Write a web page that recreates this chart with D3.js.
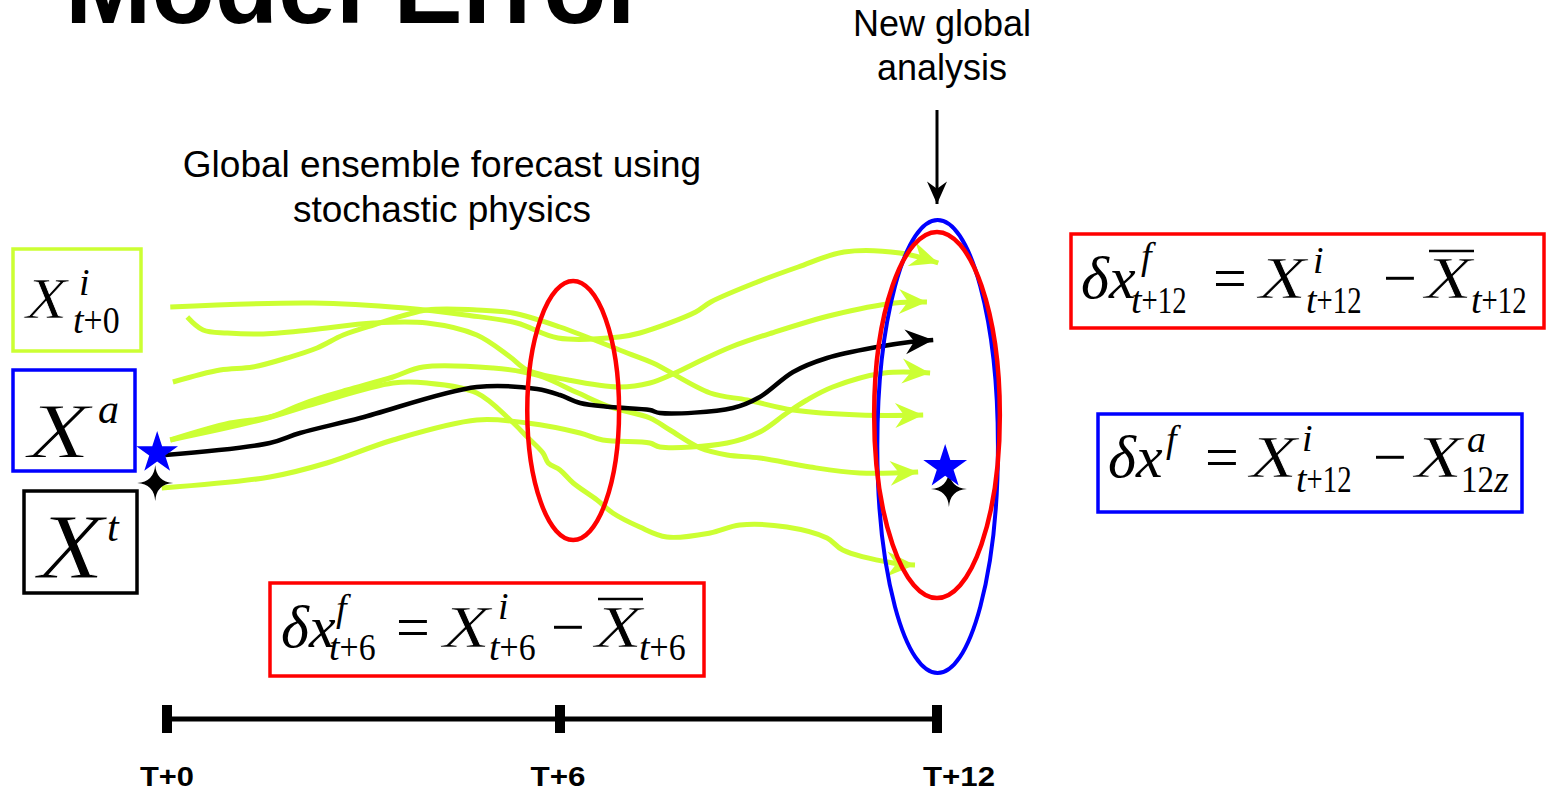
<!DOCTYPE html>
<html><head><meta charset="utf-8">
<script src="https://cdn.jsdelivr.net/npm/d3@7"></script>
<style>html,body{margin:0;padding:0;background:#fff;overflow:hidden}</style>
</head><body><svg id="c" width="1546" height="792"></svg>
<script>
// ---- data: forecast hour vs. model state (arbitrary units) ----
const hours = [0, 6, 12];
const tickLabels = ["T+0", "T+6", "T+12"];
const member1 = [[0.05,73.25],[2.23,74.25],[3.63,73.0],[4.56,71.25],[5.34,69.25],[5.97,65.5],[6.94,65.75],[7.27,66.75],[8.16,72.0],[8.40,74.5],[9.14,79.5],[9.79,83.25],[10.52,87.0],[11.41,86.75],[12.02,84.25]];
const member2 = [[0.31,70.75],[0.55,67.5],[0.92,66.75],[1.42,66.5],[2.18,67.5],[3.15,69.25],[3.97,69.25],[4.73,66.25],[5.24,60.75],[5.50,57.5],[6.13,55],[6.94,53.25],[7.43,54.25],[7.83,56.75],[8.16,59.25],[8.72,63.25],[9.37,66.75],[10.34,71.25],[11.33,74.25],[11.84,74.5]];
const member3 = [[0.09,54.5],[0.81,57.5],[1.31,58.25],[1.83,60.5],[2.29,63],[2.69,66.25],[3.15,68.75],[3.97,72.5],[4.73,72.5],[5.28,71.75],[6.0,68.25],[7.07,61.75],[7.48,59.25],[8.39,51.75],[8.98,50],[9.71,47.5],[10.77,46.25],[11.78,46.25]];
const member4 = [[0.05,40],[0.96,44.25],[1.57,45.75],[2.03,48.75],[2.34,50.5],[2.75,52.5],[3.45,55.75],[3.91,58.25],[4.98,58],[5.44,57],[5.74,55.75],[6.29,51.75],[6.80,48.25],[7.43,45.5],[7.75,42.5],[8.23,38],[8.66,36.25],[9.18,35.5],[9.98,33.25],[10.77,31.75],[11.70,32]];
const member5 = [[0.05,40],[1.42,45],[2.29,49.25],[3.45,54.25],[3.97,54.25],[4.73,51.75],[5.24,45],[5.50,40.75],[5.74,36.75],[5.82,34.25],[6.0,32.5],[6.21,29.25],[6.59,25],[6.84,21.75],[7.27,18.25],[7.70,15.75],[8.39,16.75],[8.86,18.75],[9.61,18.25],[10.25,15.5],[10.50,12.5],[11.30,9.25],[11.65,8.75]];
const member6 = [[-0.08,28],[1.57,30.75],[2.44,34.25],[3.45,40],[4.73,45],[5.50,44.25],[6.32,41.75],[6.68,40],[7.43,39.25],[7.59,38.25],[8.66,39.25],[9.18,42],[9.61,46.75],[9.93,50],[10.34,53.25],[11.16,56.75],[11.89,56.75]];
const control = [[-0.03,36.25],[1.57,39.25],[2.03,41.75],[2.95,45.5],[4.73,53.25],[5.65,52.75],[6.0,51.25],[6.32,49.25],[6.80,48.25],[7.43,47.5],[7.59,46.75],[8.75,48],[9.18,50.75],[9.71,57],[10.25,60.5],[11.05,63.25],[11.57,64.5],[11.94,65]];
// ensemble spread envelopes: [hourMin, hourMax, stateMin, stateMax]
const spreadT6 = [5.50, 6.94, 15, 79.75];
const spreadAnalysis = [11.05, 12.97, -18.25, 95];
const spreadT12 = [11.00, 13.00, 0.5, 92];
// analysis (star) and truth (4-point star) states
const analysisPts = [[-0.15, 36.75], [12.13, 33.25]];
const truthPts = [[-0.18, 29.25], [12.19, 27.75]];

// ---- drawing ----
const GREEN = "#ccff33";
const svg = d3.select("#c");
const xs = d3.scaleLinear().domain([0, 6, 12]).range([167, 560, 937]);
const ys = d3.scaleLinear().domain([0, 100]).range([600, 200]);

const defs = svg.append("defs");
function marker(id, color, s) {
  defs.append("marker").attr("id", id).attr("markerUnits", "userSpaceOnUse")
    .attr("viewBox", "-30 -15 32 30").attr("refX", 0).attr("refY", 0)
    .attr("markerWidth", 32 * s).attr("markerHeight", 30 * s).attr("orient", "auto")
    .append("path").attr("d", "M0,0L-28,-12.5L-19,0L-28,12.5Z").attr("fill", color);
}
marker("ag", GREEN, 1); marker("ak", "#000", 1); marker("ad", "#000", 0.8);

const sans = "'Liberation Sans',Arial,sans-serif";
// title
svg.append("text").attr("x", 65).attr("y", 23).attr("font-family", sans)
  .attr("font-weight", "bold").attr("font-size", 106).attr("textLength", 582).attr("lengthAdjust", "spacingAndGlyphs")
  .text("Model Error");

function label(lines, cx, y0, dy, fs) {
  const t = svg.append("text").attr("font-family", sans).attr("font-size", fs).attr("text-anchor", "middle");
  lines.forEach((l, i) => t.append("tspan").attr("x", cx).attr("y", y0 + i * dy).text(l));
}
label(["New global", "analysis"], 942, 36, 44, 36);
label(["Global ensemble forecast using", "stochastic physics"], 442, 177, 45, 37);

// down arrow
svg.append("line").attr("x1", xs(12)).attr("x2", xs(12)).attr("y1", 110).attr("y2", 204)
  .attr("stroke", "#000").attr("stroke-width", 3).attr("marker-end", "url(#ad)");

// member lines
const lineGen = d3.line().x(d => xs(d[0])).y(d => ys(d[1])).curve(d3.curveCatmullRom.alpha(0.5));
[member1, member2, member3, member4, member5, member6].forEach(m => {
  svg.append("path").attr("d", lineGen(m)).attr("fill", "none").attr("stroke", GREEN)
    .attr("stroke-width", 5).attr("stroke-linejoin", "round").attr("marker-end", "url(#ag)");
});
svg.append("path").attr("d", lineGen(control)).attr("fill", "none").attr("stroke", "#000")
  .attr("stroke-width", 4.5).attr("stroke-linejoin", "round").attr("marker-end", "url(#ak)");

// ellipses
function ell(s, color, w) {
  const x0 = xs(s[0]), x1 = xs(s[1]), y0 = ys(s[2]), y1 = ys(s[3]);
  svg.append("ellipse").attr("cx", (x0 + x1) / 2).attr("cy", (y0 + y1) / 2)
    .attr("rx", Math.abs(x1 - x0) / 2).attr("ry", Math.abs(y1 - y0) / 2)
    .attr("fill", "none").attr("stroke", color).attr("stroke-width", w);
}
ell(spreadAnalysis, "#0000ff", 4);
ell(spreadT12, "#ff0000", 4.5);
ell(spreadT6, "#ff0000", 4.5);

// stars
const star4 = { draw(ctx, size) { const r = Math.sqrt(size), q = r * 0.22;
  ctx.moveTo(0, -r); ctx.quadraticCurveTo(q*0.3, -q*0.3, r, 0); ctx.quadraticCurveTo(q*0.3, q*0.3, 0, r);
  ctx.quadraticCurveTo(-q*0.3, q*0.3, -r, 0); ctx.quadraticCurveTo(-q*0.3, -q*0.3, 0, -r); ctx.closePath(); } };
svg.selectAll(".truth").data(truthPts).join("path").attr("class", "truth")
  .attr("transform", d => `translate(${xs(d[0])},${ys(d[1])})`)
  .attr("d", d3.symbol(star4, 18 * 18)).attr("fill", "#000");
svg.selectAll(".ana").data(analysisPts).join("path").attr("class", "ana")
  .attr("transform", (d, i) => `translate(${xs(d[0])},${ys(d[1])})`)
  .attr("d", (d, i) => d3.symbol(d3.symbolStar, i ? 594 : 540)()).attr("fill", "#0000ff");

// timeline
const TY = 719;
svg.append("line").attr("x1", xs(0)).attr("x2", xs(12)).attr("y1", TY).attr("y2", TY)
  .attr("stroke", "#000").attr("stroke-width", 5);
svg.selectAll(".tk").data(hours).join("rect").attr("class", "tk")
  .attr("x", d => xs(d) - 5).attr("y", TY - 14).attr("width", 10).attr("height", 28).attr("fill", "#000");
const lblOff = [0, -2, 22], lblW = [54, 55, 72];
svg.selectAll(".tl").data(tickLabels).join("text").attr("class", "tl")
  .attr("x", (d, i) => xs(hours[i]) + lblOff[i] - lblW[i] / 2).attr("y", 786)
  .attr("font-family", sans).attr("font-weight", "bold").attr("font-size", 27)
  .attr("textLength", (d, i) => lblW[i]).attr("lengthAdjust", "spacingAndGlyphs").text(d => d);

// boxes
function box(x, y, w, h, c) {
  svg.append("rect").attr("x", x).attr("y", y).attr("width", w).attr("height", h)
    .attr("fill", "none").attr("stroke", c).attr("stroke-width", 3.5);
}
box(13, 249, 128, 102, GREEN);
box(13, 370, 122, 101, "#0000ff");
box(24, 491, 113, 102, "#000");
box(1071, 234, 473, 94, "#ff0000");
box(1098, 414, 424, 98, "#0000ff");
box(270, 583, 434, 93, "#ff0000");

// math text: each formula is one text element; parts = [str, x|null, y|null, size, italic, width]
const serif = "'Liberation Serif','Times New Roman',serif";
function eqn(parts) {
  const t = svg.append("text").attr("font-family", serif).attr("fill", "#000");
  parts.forEach(p => {
    const s = t.append("tspan").attr("font-size", p[3]).attr("font-style", p[4] ? "italic" : "normal").text(p[0]);
    if (p[1] != null) s.attr("x", p[1]);
    if (p[2] != null) s.attr("y", p[2]);
    if (p[5]) s.attr("textLength", p[5]).attr("lengthAdjust", "spacingAndGlyphs");
    if (p[0] === "X") s.attr("stroke", "#fff").attr("stroke-width", p[3] > 70 ? 1.0 : 0.7);
  });
}
function over(x1, x2, y) { svg.append("line").attr("x1", x1).attr("x2", x2).attr("y1", y).attr("y2", y).attr("stroke", "#000").attr("stroke-width", 2.5); }

// left labels
eqn([["X", 26, 318, 58, true, 41], ["i", 79, 295, 38, true], ["t", 73, 333, 38, true], ["+0", null, null, 38, false, 36]]);
eqn([["X", 28, 457, 78, true, 62], ["a", 98, 423, 42, true]]);
eqn([["X", 38, 578, 93, true, 66], ["t", 107, 541, 42, true]]);

const M = 60, S = 38, XW = 47;
// eq 1 (top right)
eqn([["δx", 1081, 298, M, true], ["f", 1141, 269, S, true], ["t", 1131, 313, S, true], ["+12", null, null, S, false, 45],
     ["=", 1213, 298, M, false], ["X", 1259, 298, M, true, XW], ["i", 1313, 273, S, true],
     ["t", 1306, 313, S, true], ["+12", null, null, S, false, 45], ["−", 1383, 298, M, false],
     ["X", 1425, 298, M, true, XW], ["t", 1471, 313, S, true], ["+12", null, null, S, false, 45]]);
over(1429, 1474, 251);
// eq 2 (blue)
eqn([["δx", 1108, 477, M, true], ["f", 1166, 452, S, true], ["=", 1205, 477, M, false],
     ["X", 1250, 477, M, true, XW], ["i", 1302, 451, S, true], ["t", 1296, 492, S, true], ["+12", null, null, S, false, 45],
     ["−", 1373, 477, M, false], ["X", 1415, 477, M, true, XW], ["a", 1467, 452, S, true],
     ["12", 1461, 492, S, false, 33], ["z", null, null, S, true]]);
// eq 3 (bottom)
eqn([["δx", 281, 647, M, true], ["f", 336, 621, S, true], ["t", 329, 660, S, true], ["+6", null, null, S, false, 36],
     ["=", 396, 647, M, false], ["X", 443, 647, M, true, XW], ["i", 498, 619, S, true],
     ["t", 489, 660, S, true], ["+6", null, null, S, false, 36], ["−", 551, 647, M, false],
     ["X", 595, 647, M, true, XW], ["t", 639, 660, S, true], ["+6", null, null, S, false, 36]]);
over(598, 643, 599);
</script></body></html>
